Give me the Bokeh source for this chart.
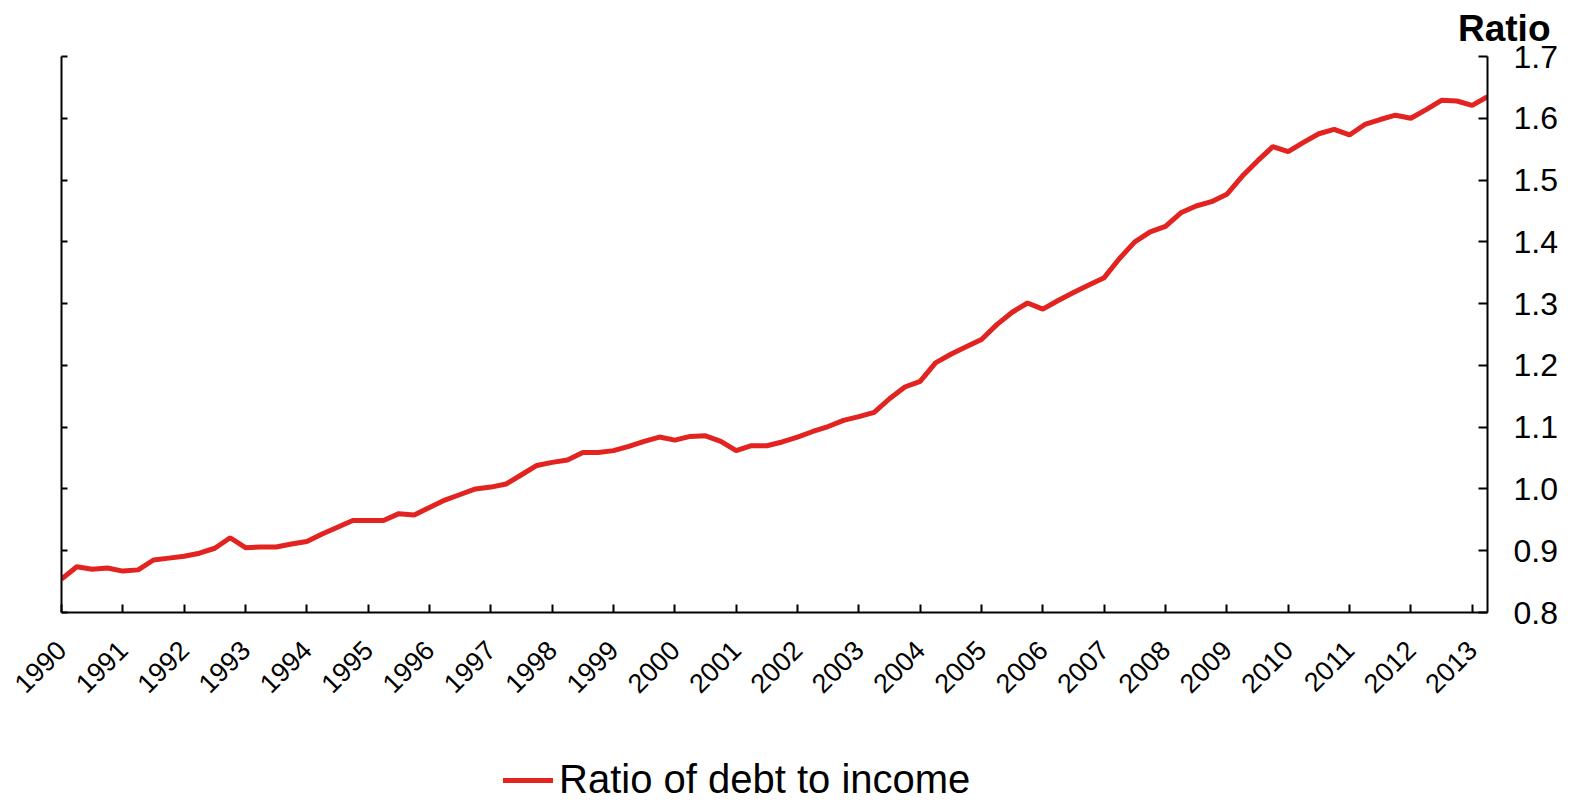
import math
from bokeh.plotting import figure
from bokeh.layouts import column
from bokeh.models import (Range1d, LinearAxis, FixedTicker, CustomJSTickFormatter,
                          PrintfTickFormatter, Title, Legend, LegendItem, ColumnDataSource)
from bokeh.embed import file_html
from bokeh.resources import INLINE

# ---- data (quarterly, 1990Q1 .. 2013Q2) ----
start_year = 1990
ratio_values = [
    0.854, 0.874, 0.870, 0.872,
    0.867, 0.869, 0.885, 0.888,
    0.891, 0.896, 0.904, 0.921,
    0.905, 0.906, 0.906, 0.911,
    0.915, 0.927, 0.938, 0.949,
    0.949, 0.949, 0.960, 0.958,
    0.970, 0.982, 0.991, 1.000,
    1.003, 1.008, 1.023, 1.038,
    1.043, 1.047, 1.059, 1.059,
    1.062, 1.069, 1.077, 1.084,
    1.079, 1.085, 1.086, 1.077,
    1.062, 1.070, 1.070, 1.076,
    1.084, 1.093, 1.101, 1.111,
    1.117, 1.124, 1.146, 1.165,
    1.174, 1.204, 1.218, 1.230,
    1.242, 1.266, 1.286, 1.301,
    1.291, 1.305, 1.318, 1.330,
    1.342, 1.373, 1.400, 1.416,
    1.425, 1.447, 1.458, 1.465,
    1.477, 1.506, 1.531, 1.554,
    1.546, 1.561, 1.575, 1.582,
    1.573, 1.590, 1.598, 1.605,
    1.600, 1.614, 1.629, 1.628,
    1.621, 1.635,
]
quarter_time = [start_year + i / 4 for i in range(len(ratio_values))]
year_ticks = list(range(1990, 2014))
ratio_ticks = [0.8, 0.9, 1.0, 1.1, 1.2, 1.3, 1.4, 1.5, 1.6, 1.7]
series_label = "Ratio of debt to income"
unit_label = "Ratio"

FONT = "Liberation Sans"
RED = "#e2231f"
LINE_W = 5

# ---------------- main chart ----------------
p = figure(width=1573, height=722, output_backend="svg", toolbar_location=None,
           x_range=Range1d(1990, quarter_time[-1]), y_range=Range1d(0.8, 1.7),
           x_axis_location=None, y_axis_location=None,
           min_border_left=61, min_border_right=86, min_border_top=56,
           min_border_bottom=110)
p.outline_line_color = None
p.xgrid.visible = False
p.ygrid.visible = False
p.background_fill_color = "white"
p.border_fill_color = "white"

src = ColumnDataSource(dict(t=quarter_time, v=ratio_values))
r = p.line("t", "v", source=src, line_color=RED, line_width=LINE_W)

def style_axis(ax):
    ax.axis_line_color = "black"
    ax.axis_line_width = 2
    ax.major_tick_line_color = "black"
    ax.major_tick_line_width = 2
    ax.major_tick_out = 0
    ax.minor_tick_in = 0
    ax.minor_tick_out = 0
    ax.major_label_text_font = FONT
    ax.major_label_text_color = "black"

xax = LinearAxis(ticker=FixedTicker(ticks=year_ticks))
style_axis(xax)
xax.major_tick_in = 8
xax.major_label_orientation = math.pi / 4
xax.major_label_text_font_size = "27px"
xax.major_label_standoff = 33
p.add_layout(xax, "below")

lax = LinearAxis(ticker=FixedTicker(ticks=ratio_ticks),
                 formatter=CustomJSTickFormatter(code="return ''"))
style_axis(lax)
lax.major_tick_in = 6
lax.major_label_text_font_size = "1px"
p.add_layout(lax, "left")

rax = LinearAxis(ticker=FixedTicker(ticks=ratio_ticks),
                 formatter=PrintfTickFormatter(format="%.1f"))
style_axis(rax)
rax.major_tick_in = 9
rax.major_label_text_font_size = "32px"
rax.major_label_standoff = 26
p.add_layout(rax, "right")

title = Title(text=unit_label, align="right", offset=-63, vertical_align="top",
              text_font=FONT, text_font_size="37px", text_font_style="bold",
              text_color="black", standoff=12)
p.add_layout(title, "above")

# ---------------- legend strip ----------------
q = figure(width=1573, height=80, output_backend="svg", toolbar_location=None,
           x_range=Range1d(0, 1), y_range=Range1d(0, 1),
           x_axis_location=None, y_axis_location=None,
           min_border_left=0, min_border_right=0, min_border_top=0,
           min_border_bottom=0)
q.outline_line_color = None
q.xgrid.visible = False
q.ygrid.visible = False
q.background_fill_color = "white"
q.border_fill_color = "white"
# same series drawn in the legend strip (its values lie outside this strip's
# ranges, so only its legend swatch shows)
r_leg = q.line("t", "v", source=src, line_color=RED, line_width=LINE_W,
               line_cap="round")

legend = Legend(items=[LegendItem(label=series_label, renderers=[r_leg])],
                location=(442, 0), orientation="horizontal",
                label_text_font=FONT, label_text_font_size="40px",
                label_text_color="black",
                glyph_width=50, glyph_height=40, label_height=40,
                label_standoff=6, padding=0, margin=0, spacing=0,
                border_line_color=None, background_fill_alpha=0)
q.add_layout(legend, "center")

layout = column(p, q, spacing=0)
open("out.html", "w").write(file_html(layout, INLINE))
